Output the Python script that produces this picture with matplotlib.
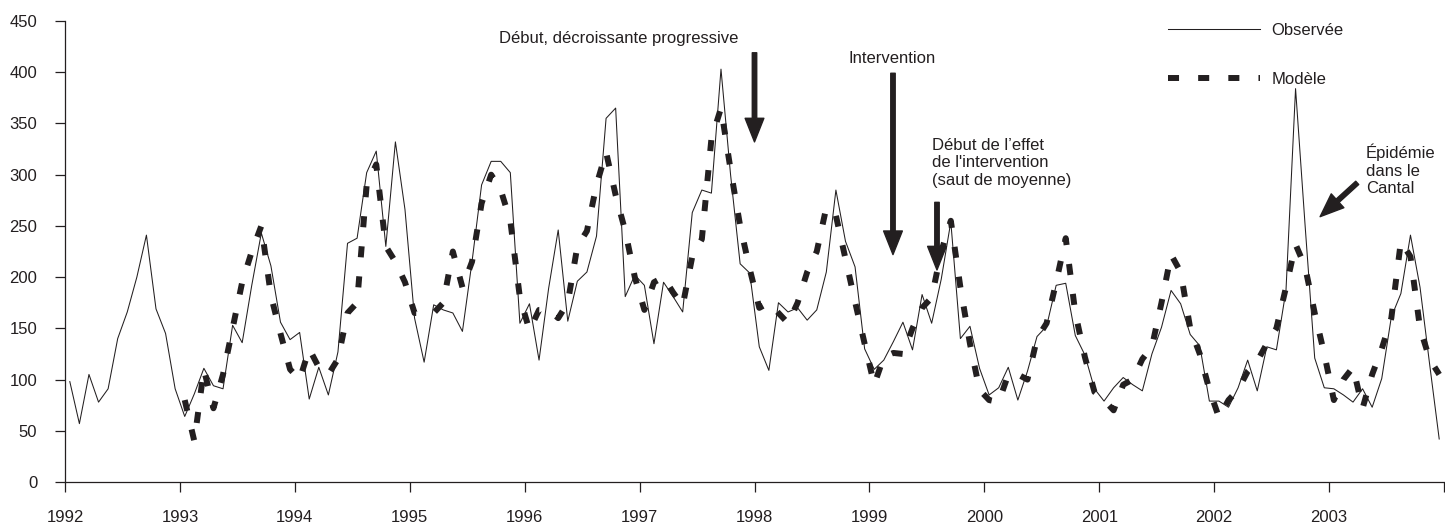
import matplotlib.pyplot as plt
import numpy as np

plt.rcParams["font.family"] = ["Liberation Sans", "DejaVu Sans"]
INK = "#231f20"

# monthly series, Jan 1992 - Dec 2003
years = list(range(1992, 2004))
observed = [
    98, 57, 105, 78, 91, 140, 166, 200, 241, 169, 145, 91,      # 1992
    64, 86, 111, 94, 91, 153, 136, 192, 243, 211, 156, 139,     # 1993
    146, 81, 112, 85, 127, 233, 238, 302, 323, 230, 332, 266,   # 1994
    160, 117, 173, 168, 165, 147, 215, 290, 313, 313, 302, 155, # 1995
    174, 119, 189, 246, 157, 196, 205, 240, 355, 365, 181, 202, # 1996
    192, 135, 195, 181, 166, 263, 285, 282, 403, 300, 213, 204, # 1997
    132, 109, 175, 166, 170, 158, 168, 205, 285, 235, 210, 130, # 1998
    110, 119, 137, 156, 129, 183, 155, 198, 254, 140, 152, 111, # 1999
    85, 92, 112, 80, 108, 142, 152, 192, 194, 143, 124, 91,     # 2000
    79, 92, 102, 95, 89, 125, 151, 187, 174, 144, 133, 79,      # 2001
    79, 73, 92, 119, 89, 132, 129, 187, 384, 250, 121, 92,      # 2002
    91, 85, 78, 91, 73, 101, 161, 184, 241, 190, 115, 42,       # 2003
]

# model starts in Jan 1993
model_start = 1993
model = [
    80, 40, 110, 72, 105, 150, 195, 225, 250, 182, 145, 110,    # 1993
    100, 130, 112, 105, 120, 165, 175, 290, 310, 230, 215, 195, # 1994
    165, 165, 165, 175, 225, 190, 215, 272, 300, 285, 255, 180, # 1995
    148, 168, 168, 160, 175, 230, 245, 290, 322, 280, 245, 200, # 1996
    168, 195, 200, 185, 172, 220, 237, 335, 365, 305, 250, 208, # 1997
    170, 175, 165, 155, 175, 205, 225, 268, 260, 218, 176, 135, # 1998
    95, 122, 126, 125, 150, 170, 180, 225, 255, 190, 135, 90,   # 1999
    80, 78, 105, 105, 100, 140, 155, 195, 238, 165, 122, 88,    # 2000
    80, 70, 95, 100, 120, 132, 175, 222, 205, 150, 125, 90,     # 2001
    63, 80, 90, 108, 118, 135, 150, 190, 232, 210, 165, 125,    # 2002
    80, 100, 112, 72, 105, 130, 160, 235, 220, 150, 120, 105,   # 2003
]

obs_x = years[0] + (np.arange(len(observed)) + 0.5) / 12
mod_x = model_start + (np.arange(len(model)) + 0.5) / 12

fig = plt.figure(figsize=(14.45, 5.29), dpi=100)
ax = fig.add_axes([0.045, 0.0888, 0.9543, 0.8715])

ax.plot(obs_x, observed, color=INK, lw=0.75, label="Observée")
ax.plot(mod_x, model, color=INK, lw=4.3, linestyle=(0, (1.85, 3.2)),
        solid_capstyle="butt", label="Modèle")

ax.set_xlim(years[0], years[-1] + 1)
ax.set_ylim(0, 450)
ax.set_xticks(years + [years[-1] + 1])
ax.set_xticklabels([str(y) for y in years] + [""])
ax.set_yticks(range(0, 451, 50))
ax.tick_params(axis="both", direction="out", length=7, width=0.9,
               color=INK, labelcolor=INK, labelsize=12, pad=13)
for s in ["top", "right"]:
    ax.spines[s].set_visible(False)
for s in ["left", "bottom"]:
    ax.spines[s].set_color(INK)
    ax.spines[s].set_linewidth(0.9)

leg = ax.legend(loc="upper left", bbox_to_anchor=(0.7998, 0.995), frameon=False,
                handlelength=5.5, handletextpad=0.7, labelspacing=2.0,
                borderpad=0, borderaxespad=0, fontsize=12)
for t in leg.get_texts():
    t.set_color(INK)

arrow = dict(facecolor=INK, edgecolor=INK, width=3.2, headwidth=13.5,
             headlength=17, shrink=0)
txt = dict(color=INK, fontsize=12)

ax.text(1997.86, 433, "Début, décroissante progressive", ha="right", va="center", **txt)
ax.annotate("", xy=(1998.0, 332), xytext=(1998.0, 419), arrowprops=arrow)

ax.text(1999.2, 413, "Intervention", ha="center", va="center", **txt)
ax.annotate("", xy=(1999.205, 222), xytext=(1999.205, 399), arrowprops=arrow)

ax.text(1999.544, 336, "Début de l’effet\nde l'intervention\n(saut de moyenne)",
        ha="left", va="top", linespacing=1.2, **txt)
ax.annotate("", xy=(1999.588, 207), xytext=(1999.588, 273), arrowprops=arrow)

ax.text(2003.321, 330, "Épidémie\ndans le\nCantal", ha="left", va="top",
        linespacing=1.2, **txt)
ax.annotate("", xy=(2002.922, 259), xytext=(2003.245, 292), arrowprops=arrow)

fig.savefig("out.png", dpi=100)
